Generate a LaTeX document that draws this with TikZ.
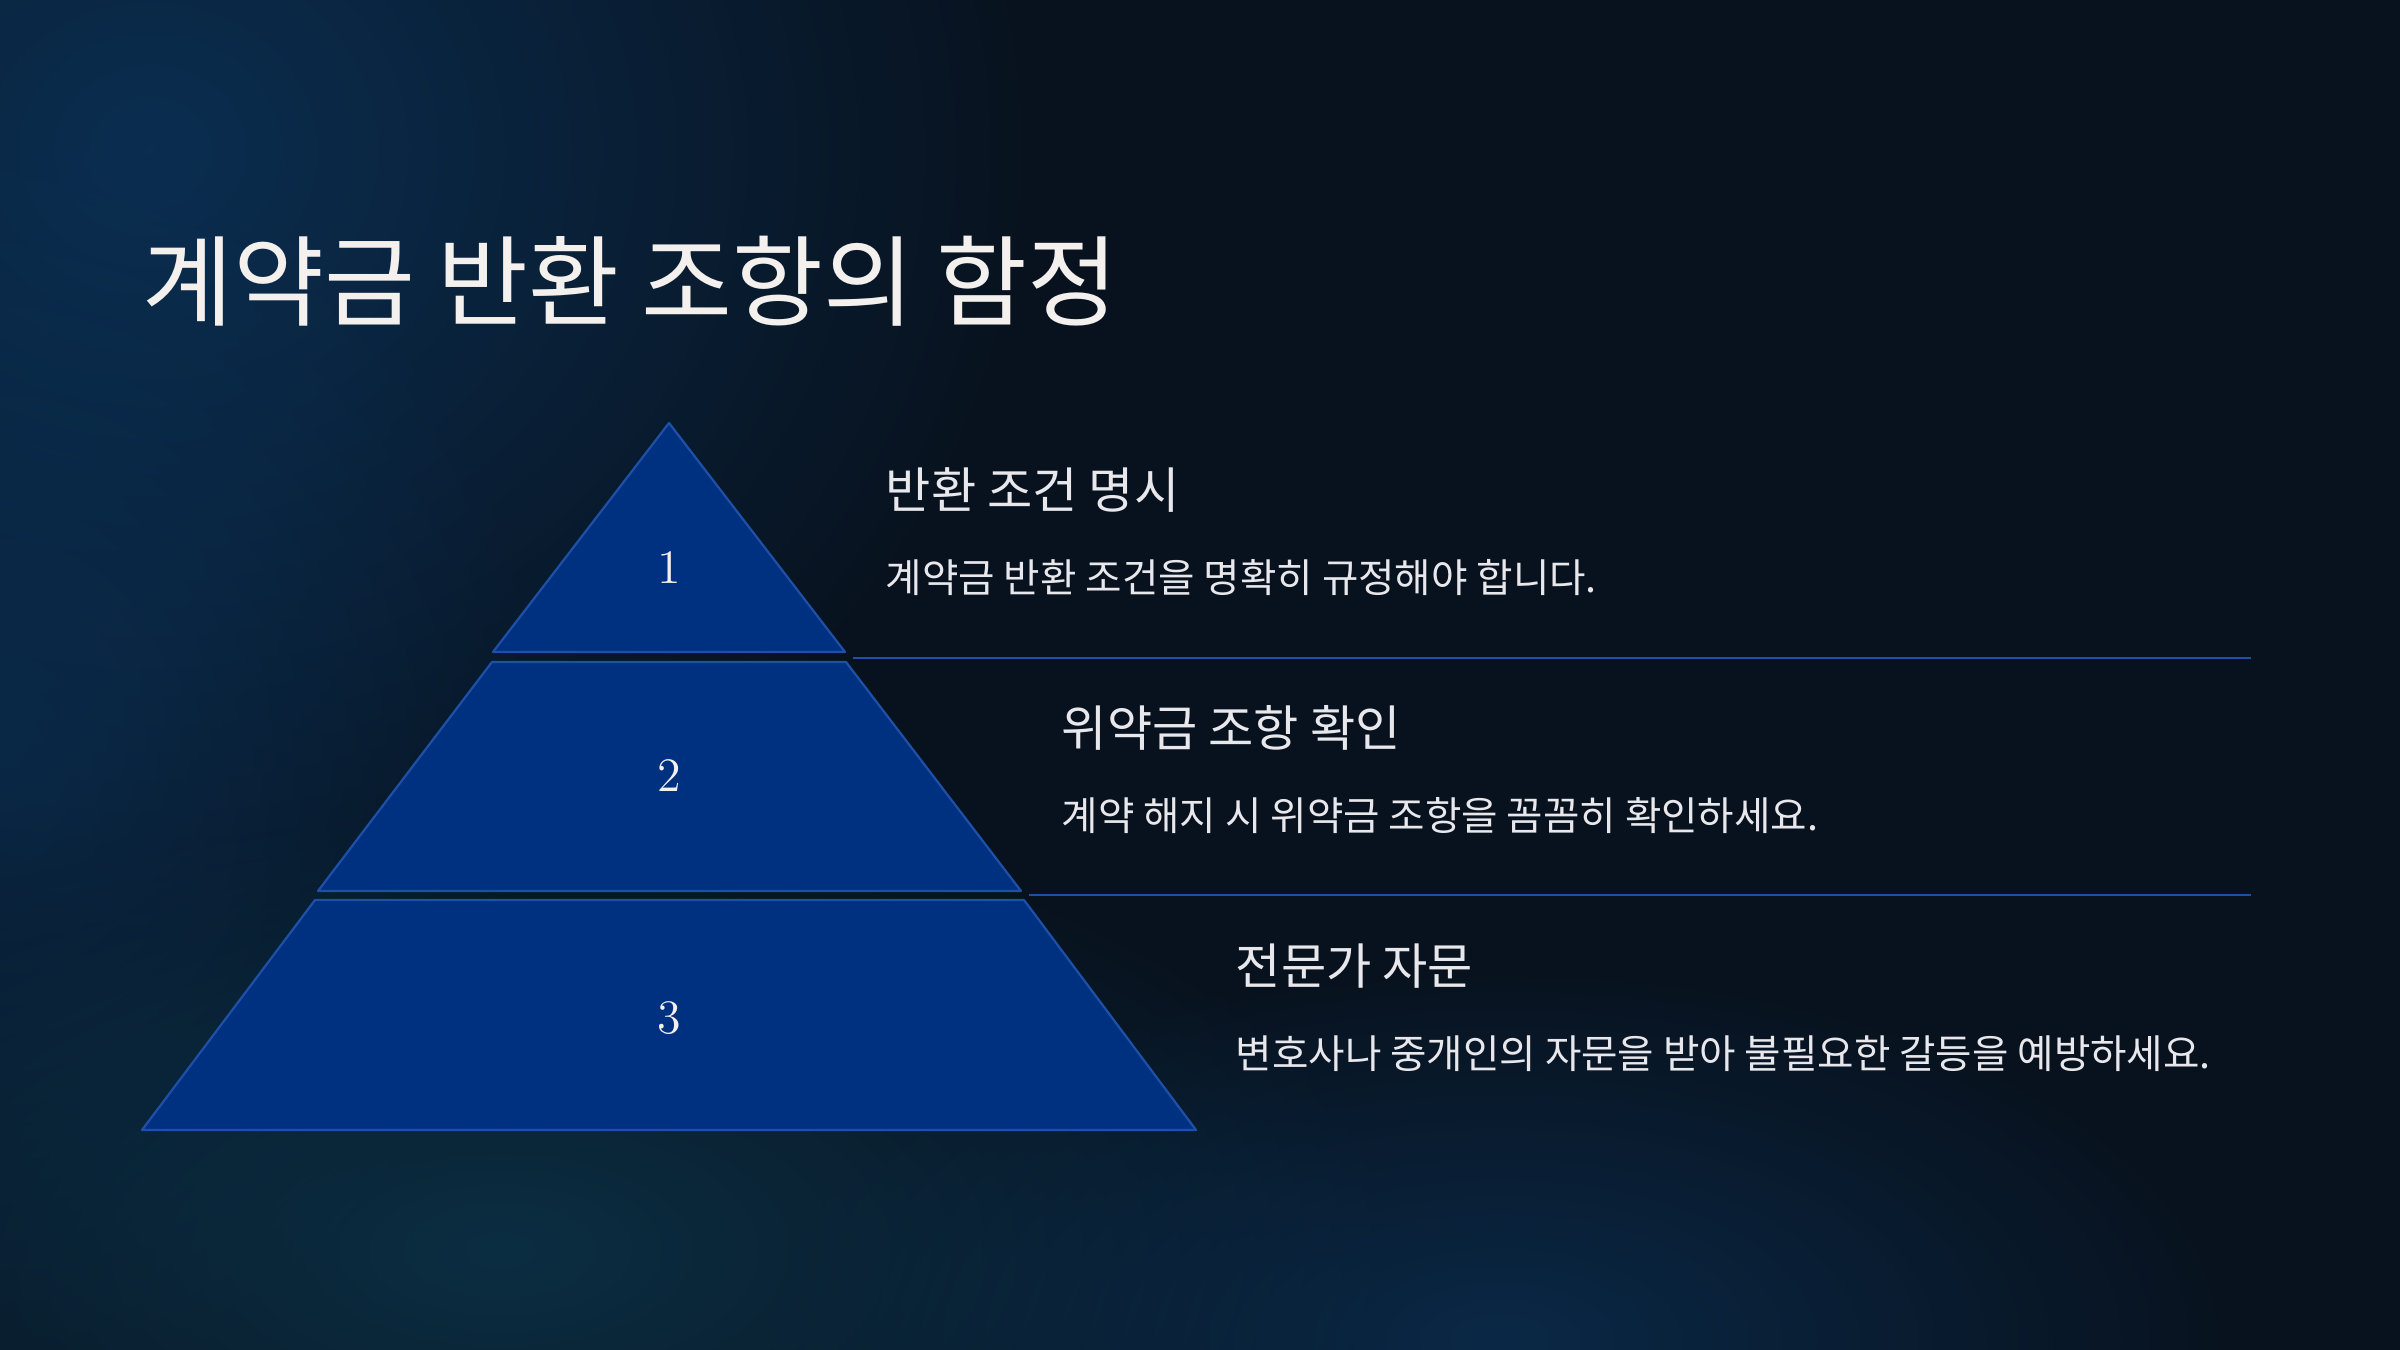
\documentclass[tikz,border=0pt]{standalone}
\usepackage{fontspec}
\newfontfamily\krfont{Noto Sans CJK KR}
\usepackage{xcolor}
\usepackage{tikz}
\usetikzlibrary{fadings}
\definecolor{bgnavy}{HTML}{08121E}
\definecolor{glowblue}{HTML}{0C3A66}
\definecolor{glowteal}{HTML}{0D3A52}
\definecolor{tierblue}{HTML}{003080}
\definecolor{tieredge}{HTML}{1E50A8}
\definecolor{titlewhite}{HTML}{F3F0ED}
\definecolor{textwhite}{HTML}{E8E8EC}
\tikzfading[name=glow,inner color=transparent!30,outer color=transparent!100]

\begin{document}
\begin{tikzpicture}[x=0.25pt,y=-0.25pt,
  tier/.style={fill=tierblue,draw=tieredge,line width=0.55pt,line join=round},
  num/.style={text=titlewhite,font=\fontsize{12}{14}\selectfont},
  pagetitle/.style={anchor=base west,inner sep=0pt,text=titlewhite,
    font=\krfont\fontsize{24.7}{29}\selectfont},
  itemhead/.style={anchor=base west,inner sep=0pt,text=textwhite,
    font=\krfont\fontsize{12.3}{15}\selectfont},
  itemdesc/.style={itemhead,font=\krfont\fontsize{9.9}{12}\selectfont},
  sepline/.style={draw=tieredge,line width=0.45pt}
]
\useasboundingbox (0,0) rectangle (2400,1350);
% background
\fill[bgnavy] (0,0) rectangle (2400,1350);
\fill[glowblue,path fading=glow] (150,150) ellipse (900 and 800);
\fill[glowblue,path fading=glow,opacity=0.7] (0,750) ellipse (550 and 650);
\fill[glowteal,path fading=glow] (500,1250) ellipse (900 and 450);
\fill[glowblue,path fading=glow,opacity=0.8] (1500,1340) ellipse (750 and 380);

% pyramid tiers
\fill[tier] (669,423) -- (845,652) -- (493,652) -- cycle;
\fill[tier] (492,662) -- (846,662) -- (1021,891) -- (318,891) -- cycle;
\fill[tier] (315,900) -- (1024,900) -- (1196,1130) -- (142,1130) -- cycle;
\node[num] (n1) at (669,568) {1};
\node[num] (n2) at (669,776) {2};
\node[num] (n3) at (669,1018) {3};

% separators
\coordinate (s1a) at (853,658);
\coordinate (s1b) at (2251,658);
\coordinate (s2a) at (1029,895);
\coordinate (s2b) at (2251,895);
\draw[sepline] (s1a) -- (s1b);
\draw[sepline] (s2a) -- (s2b);

% text
\node[pagetitle] (title) at (142,318) {계약금 반환 조항의 함정};
\node[itemhead] (h1) at (885,508) {반환 조건 명시};
\node[itemdesc] (d1) at (885,592) {계약금 반환 조건을 명확히 규정해야 합니다.};
\node[itemhead] (h2) at (1061,746) {위약금 조항 확인};
\node[itemdesc] (d2) at (1061,830) {계약 해지 시 위약금 조항을 꼼꼼히 확인하세요.};
\node[itemhead] (h3) at (1235,984) {전문가 자문};
\node[itemdesc] (d3) at (1235,1068) {변호사나 중개인의 자문을 받아 불필요한 갈등을 예방하세요.};
\end{tikzpicture}
\end{document}
